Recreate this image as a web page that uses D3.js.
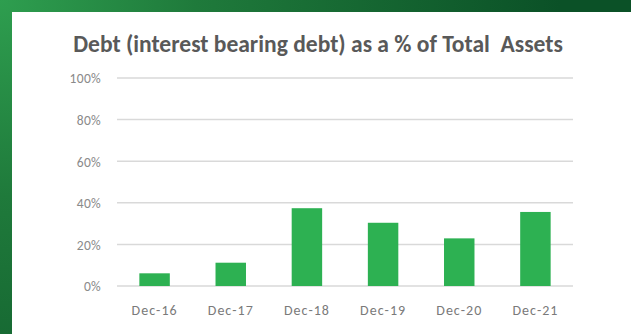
<!DOCTYPE html>
<html>
<head>
<meta charset="utf-8">
<script src="https://cdn.jsdelivr.net/npm/d3@7"></script>
<style>
html,body{margin:0;padding:0;background:#fff;}
svg{display:block;}
</style>
</head>
<body>
<svg id="chart" width="631" height="334"></svg>
<script>
const title = "Debt (interest bearing debt) as a % of Total\u00a0 Assets";
const categories = ["Dec-16","Dec-17","Dec-18","Dec-19","Dec-20","Dec-21"];
const values = [6.1, 11.2, 37.4, 30.4, 22.9, 35.6];
const yTicks = [0, 20, 40, 60, 80, 100];

const svg = d3.select("#chart");
const W = 631, H = 334;
const font = "Carlito, Lato, 'Open Sans', sans-serif";

// background frame
const defs = svg.append("defs");
const rg = defs.append("radialGradient").attr("id","bg")
  .attr("gradientUnits","userSpaceOnUse").attr("cx",0).attr("cy",0).attr("r",560);
rg.append("stop").attr("offset","0").attr("stop-color","#2e9e4f");
rg.append("stop").attr("offset","0.35").attr("stop-color","#1f7a3b");
rg.append("stop").attr("offset","1").attr("stop-color","#0b5127");
svg.append("rect").attr("width",W).attr("height",H).attr("fill","url(#bg)");
svg.append("rect").attr("x",12).attr("y",12).attr("width",W-12).attr("height",H-12).attr("fill","#ffffff");

const x = d3.scaleBand().domain(categories).range([116.5, 573.5]).paddingInner(0.6).paddingOuter(0.3);
const y = d3.scaleLinear().domain([0,100]).range([286, 78]);

// gridlines
svg.append("g").selectAll("line").data(yTicks).join("line")
  .attr("x1", 117).attr("x2", 573)
  .attr("y1", d=>y(d)).attr("y2", d=>y(d))
  .attr("stroke","#d9d9d9").attr("stroke-width",1.5);

// y axis labels
const yAxis = d3.axisLeft(y).tickValues(yTicks).tickFormat(d=>d+"%").tickSize(0).tickPadding(0);
const gy = svg.append("g").attr("transform","translate(101,0)").call(yAxis);
gy.select(".domain").remove();
gy.selectAll("text").attr("font-family",font).attr("font-size",13.5).attr("fill","#8a8a8a")
  .attr("letter-spacing", 0.3).attr("dy","0.36em");

// bars
svg.append("g").selectAll("rect").data(values).join("rect")
  .attr("x",(d,i)=>x(categories[i]))
  .attr("width",x.bandwidth())
  .attr("y",d=>y(d))
  .attr("height",d=>y(0)-y(d))
  .attr("fill","#2db152");

// x axis labels
const xAxis = d3.axisBottom(x).tickSize(0).tickPadding(0);
const gx = svg.append("g").attr("transform","translate(0,305)").call(xAxis);
gx.select(".domain").remove();
gx.selectAll("text").attr("font-family",font).attr("font-size",14).attr("fill","#7a7a7a")
  .attr("letter-spacing", 1).attr("dy","0.71em");

// title
const t = svg.append("text").attr("x",318).attr("y",51.5).attr("text-anchor","middle")
  .attr("font-family",font).attr("font-weight","bold").attr("font-size",19).attr("fill","#595959")
  .text(title);
const len = t.node().getComputedTextLength();
t.attr("font-size", 19*490/len);
</script>
</body>
</html>
